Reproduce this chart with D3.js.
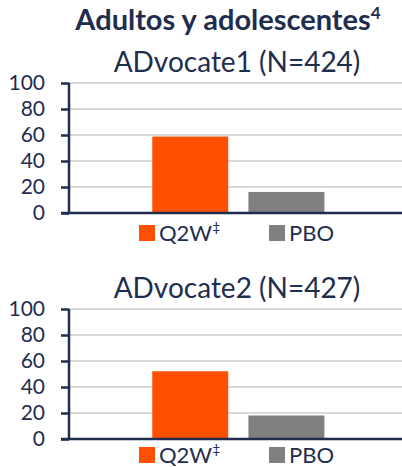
<!DOCTYPE html>
<html>
<head>
<meta charset="utf-8">
<script src="https://cdn.jsdelivr.net/npm/d3@7"></script>
<style>
  body { margin: 0; background: #fff; }
  svg text { font-family: Lato, "Open Sans", sans-serif; fill: #1f2d4f; }
</style>
</head>
<body>
<div id="chart"></div>
<script>
// chart data
var title = "Adultos y adolescentes";
var titleSup = "4";
var studies = ["ADvocate1 (N=424)", "ADvocate2 (N=427)"];
var series = ["Q2W", "PBO"];
var seriesSup = ["‡", ""];
var q2wValues = [58.8, 52.1];
var pboValues = [16.2, 18.1];
var yTicks = [0, 20, 40, 60, 80, 100];

var colors = { Q2W: "#ff5000", PBO: "#808080" };
var navy = "#1f2d4f";

var svgWidth = 402;
var svgHeight = 467;

var svg = d3.select("#chart")
    .append("svg")
    .attr("width", svgWidth)
    .attr("height", svgHeight);

// main title
var t = svg.append("text")
    .attr("x", 228)
    .attr("y", 30)
    .attr("text-anchor", "middle")
    .attr("font-size", 29)
    .attr("font-weight", "bold");
t.append("tspan").text(title);
t.append("tspan").attr("font-size", 17).attr("dy", -11).text(titleSup);

// one panel per study
var panelTop = [83, 309];
var legendGap = [12, 8];
var plotHeight = 130;
var plotLeft = 69;
var plotRight = 402;

studies.forEach(function (study, i) {
    var g = svg.append("g")
        .attr("transform", `translate(0, ${panelTop[i]})`);

    var values = [q2wValues[i], pboValues[i]];

    var y = d3.scaleLinear()
        .domain([0, 100])
        .range([plotHeight, 0]);

    var x0 = d3.scaleBand()
        .domain(["g"])
        .range([plotLeft, plotRight])
        .paddingOuter(0.37)
        .align(0.52);

    var x1 = d3.scaleBand()
        .domain(series)
        .range([x0("g"), x0("g") + x0.bandwidth()])
        .paddingInner(0.21)
        .paddingOuter(0.1);

    // gridlines
    g.append("g")
        .selectAll("line")
        .data(yTicks.filter(d => d > 0))
        .enter()
        .append("line")
        .attr("x1", plotLeft)
        .attr("x2", plotRight)
        .attr("y1", d => y(d))
        .attr("y2", d => y(d))
        .attr("stroke", "#d9d9d9")
        .attr("stroke-width", 2);

    // bars
    g.append("g")
        .selectAll("rect")
        .data(series)
        .enter()
        .append("rect")
        .attr("x", d => x1(d))
        .attr("width", x1.bandwidth())
        .attr("y", (d, j) => y(values[j]))
        .attr("height", (d, j) => y(0) - y(values[j]))
        .attr("fill", d => colors[d]);

    // y axis
    var leftAxis = d3.axisLeft(y)
        .tickValues(yTicks)
        .tickSize(8)
        .tickPadding(16);

    var ay = g.append("g")
        .attr("transform", `translate(${plotLeft}, 0)`)
        .call(leftAxis);
    ay.select(".domain").attr("stroke", navy).attr("stroke-width", 2.5)
        .attr("d", `M0,0V${plotHeight}`);
    ay.selectAll(".tick line").attr("stroke", navy).attr("stroke-width", 2.5);
    ay.selectAll(".tick text")
        .attr("font-size", 21)
        .attr("fill", navy)
        .attr("font-family", "Lato, sans-serif");

    // x axis line
    g.append("line")
        .attr("x1", plotLeft - 8)
        .attr("x2", plotRight)
        .attr("y1", y(0))
        .attr("y2", y(0))
        .attr("stroke", navy)
        .attr("stroke-width", 2.5);

    // study subtitle
    g.append("text")
        .attr("x", 237)
        .attr("y", -11)
        .attr("text-anchor", "middle")
        .attr("font-size", 28)
        .text(study);

    // legend
    var lx = d3.scaleBand()
        .domain(series)
        .range([139, 399]);

    var legend = g.append("g")
        .attr("transform", `translate(0, ${plotHeight + legendGap[i]})`);

    var items = legend.selectAll("g")
        .data(series)
        .enter()
        .append("g")
        .attr("transform", d => `translate(${lx(d)}, 0)`);

    items.append("rect")
        .attr("width", 16)
        .attr("height", 16)
        .attr("fill", d => colors[d]);

    var lt = items.append("text")
        .attr("x", 20)
        .attr("y", 16)
        .attr("font-size", 22);
    lt.append("tspan").text(d => d);
    lt.append("tspan")
        .attr("font-size", 14)
        .attr("dy", -9)
        .text((d, j) => seriesSup[j]);
});
</script>
</body>
</html>
